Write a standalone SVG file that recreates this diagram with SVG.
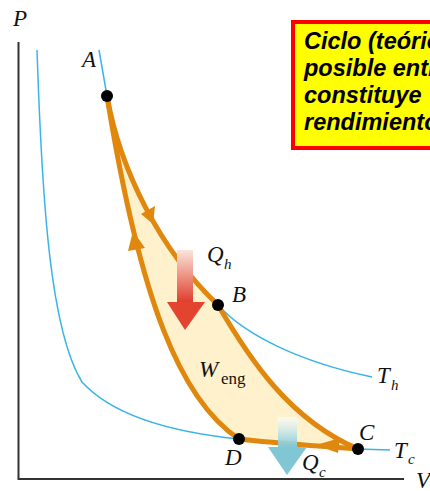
<svg xmlns="http://www.w3.org/2000/svg" width="430" height="491" viewBox="0 0 430 491">
<style>
.axis{stroke:#333;stroke-width:2;fill:none}
.iso{stroke:#3ab4e8;stroke-width:1.5;fill:none}
.cyc{stroke:#e0870e;stroke-width:5;fill:none;stroke-linejoin:round;stroke-linecap:round}
.ah{fill:#e0870e}
.dot{fill:#000}
.lbl{font-family:"Liberation Serif","DejaVu Serif",serif;font-style:italic;font-size:23px;fill:#111}
.sub{font-family:"Liberation Serif","DejaVu Serif",serif;font-style:italic;font-size:15px;fill:#111}
.subr{font-family:"Liberation Serif","DejaVu Serif",serif;font-size:17px;fill:#111}
.note{font-family:"Liberation Sans",Arial,sans-serif;font-style:italic;font-weight:bold;font-size:23.5px;fill:#000}
</style>
<defs>
<linearGradient id="gh" x1="0" y1="0" x2="0" y2="1">
<stop offset="0" stop-color="#fbe6dc"/>
<stop offset="1" stop-color="#e03a28"/>
</linearGradient>
<linearGradient id="gc" x1="0" y1="0" x2="0" y2="1">
<stop offset="0" stop-color="#ffffff" stop-opacity="0.6"/>
<stop offset="1" stop-color="#7cc6d6"/>
</linearGradient>
</defs>
<rect width="430" height="491" fill="#fff"/>
<g id="axes">
<path class="axis" d="M18.5,42 V479 H404"/>
<text class="lbl" x="13" y="26">P</text>
<text class="lbl" x="416" y="488">V</text>
</g>
<g id="isotherms">
<path class="iso" d="M99,50 L107,96 C120,170 160,250 218,305 C245,335 300,362 372,377"/>
<path class="iso" d="M37,50 C42,200 50,330 82,382 C112,415 170,432 239,439 C270,443 320,446 358,449 L390,450"/>
<text class="lbl" x="377" y="383">T</text><text class="sub" x="391" y="390">h</text>
<text class="lbl" x="394" y="458">T</text><text class="sub" x="408" y="464">c</text>
</g>
<g id="cycle">
<path d="M107,96 C120,170 160,250 218,305 C250,360 290,420 358,449 C320,446 270,443 239,439 C180,400 140,300 107,96 Z" fill="#fef1cb" stroke="none"/>
<g id="connectors">
<path class="cyc" d="M107,96 C120,170 160,250 218,305"/>
<path class="cyc" d="M218,305 C250,360 290,420 358,449"/>
<path class="cyc" d="M358,449 C320,446 270,443 239,439"/>
<path class="cyc" d="M239,439 C180,400 140,300 107,96"/>
<polygon class="ah" points="153,224 141,214 155,206"/>
<polygon class="ah" points="133,231 128,251 145,248"/>
<polygon class="ah" points="316,445 340,438 338,453"/>
</g>
</g>
<g id="Qh">
<rect x="177" y="250" width="16" height="53" fill="url(#gh)"/>
<polygon points="167,302 205,302 185,330" fill="#e2442f"/>
<text class="lbl" x="207" y="262">Q</text><text class="sub" x="224" y="269">h</text>
</g>
<g id="Qc">
<rect x="278" y="417" width="19" height="31" fill="url(#gc)"/>
<polygon points="268,447 307,447 287,475" fill="#80c6d5"/>
<text class="lbl" x="302" y="470">Q</text><text class="sub" x="319" y="477">c</text>
</g>
<g id="Weng">
<text class="lbl" x="199" y="377">W</text><text class="subr" x="221" y="384">eng</text>
</g>
<g id="A"><circle class="dot" cx="107" cy="96" r="6"/><text class="lbl" x="82" y="67">A</text></g>
<g id="B"><circle class="dot" cx="218" cy="305" r="6"/><text class="lbl" x="232" y="302">B</text></g>
<g id="C"><circle class="dot" cx="358" cy="449" r="6"/><text class="lbl" x="359" y="440">C</text></g>
<g id="D"><circle class="dot" cx="239" cy="439" r="6"/><text class="lbl" x="225" y="465">D</text></g>
<g id="note">
<rect x="293" y="22" width="160" height="126" fill="#ffff00" stroke="#ff0000" stroke-width="4"/>
<text class="note" x="304" y="49">Ciclo (teórico</text>
<text class="note" x="304" y="76">posible entre</text>
<text class="note" x="304" y="103">constituye</text>
<text class="note" x="304" y="130">rendimiento</text>
</g>
</svg>
